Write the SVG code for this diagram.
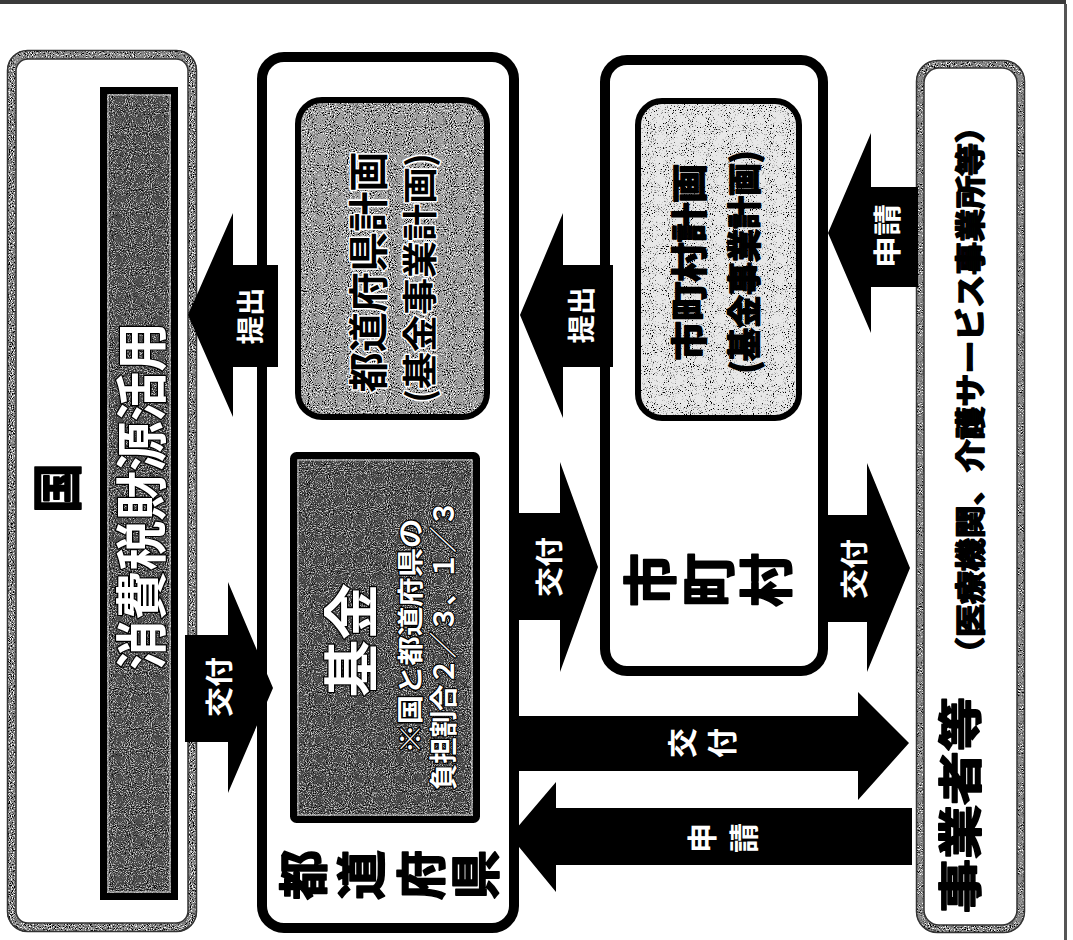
<svg xmlns="http://www.w3.org/2000/svg" width="1073" height="940" viewBox="0 0 1073 940">
<defs>
<style>
.t{font-family:"Noto Sans CJK JP","Noto Sans",sans-serif;font-weight:700;text-anchor:middle;dominant-baseline:central}
.w{fill:#fff}
.k{fill:#000}
.kb{fill:#000;stroke:#000;stroke-width:1.6;stroke-linejoin:round}
.ow{fill:#fff;stroke:#000;stroke-width:2.5;paint-order:stroke;stroke-linejoin:round}
.ok{fill:#000;stroke:#fff;stroke-width:3;paint-order:stroke;stroke-linejoin:round}
.arrow{fill:#000}
.frame{fill:#fff;stroke:#000;stroke-width:10}
.gb{fill:none;stroke:#8a8a8a;filter:url(#grainMid)}
.edge{fill:none;stroke:#333;stroke-width:1.5}
</style>
<filter id="grainDark" x="-5%" y="-5%" width="110%" height="110%">
<feTurbulence type="fractalNoise" baseFrequency="0.95" numOctaves="2" seed="5" result="n"/>
<feColorMatrix in="n" type="matrix" values="0 0 0 0 1  0 0 0 0 1  0 0 0 0 1  -5 0 0 0 2.35" result="lt"/>
<feComponentTransfer in="lt" result="lt1"><feFuncA type="linear" slope="0.55"/></feComponentTransfer>
<feComposite in="lt1" in2="SourceGraphic" operator="in" result="lt2"/>
<feColorMatrix in="n" type="matrix" values="0 0 0 0 0  0 0 0 0 0  0 0 0 0 0  5 0 0 0 -2.7" result="dk"/>
<feComposite in="dk" in2="SourceGraphic" operator="in" result="dk2"/>
<feMerge><feMergeNode in="SourceGraphic"/><feMergeNode in="dk2"/><feMergeNode in="lt2"/></feMerge>
</filter>
<filter id="grainMid" x="-5%" y="-5%" width="110%" height="110%">
<feTurbulence type="fractalNoise" baseFrequency="0.95" numOctaves="2" seed="9" result="n"/>
<feColorMatrix in="n" type="matrix" values="0 0 0 0 0  0 0 0 0 0  0 0 0 0 0  6 0 0 0 -3.1" result="dk"/>
<feComposite in="dk" in2="SourceGraphic" operator="in" result="dk2"/>
<feColorMatrix in="n" type="matrix" values="0 0 0 0 1  0 0 0 0 1  0 0 0 0 1  -6 0 0 0 2.6" result="lt"/>
<feComposite in="lt" in2="SourceGraphic" operator="in" result="lt2"/>
<feMerge><feMergeNode in="SourceGraphic"/><feMergeNode in="dk2"/><feMergeNode in="lt2"/></feMerge>
</filter>
<filter id="grainLight" x="-5%" y="-5%" width="110%" height="110%">
<feTurbulence type="fractalNoise" baseFrequency="0.95" numOctaves="2" seed="3" result="n"/>
<feColorMatrix in="n" type="matrix" values="0 0 0 0 0  0 0 0 0 0  0 0 0 0 0  7 0 0 0 -4.1" result="dk"/>
<feComposite in="dk" in2="SourceGraphic" operator="in" result="dk2"/>
<feMerge><feMergeNode in="SourceGraphic"/><feMergeNode in="dk2"/></feMerge>
</filter>
</defs>
<rect width="1073" height="940" fill="#fff"/>
<g id="page-edges">
<rect x="0" y="0" width="1066" height="4" fill="#3a3a3a"/>
<rect x="1064" y="4" width="3" height="936" fill="#555"/>
</g>

<g id="node-kuni">
<rect x="11.5" y="54.5" width="181" height="873" rx="16" fill="#fff"/>
<rect x="11.5" y="54.5" width="181" height="873" rx="16" class="gb" stroke-width="9"/>
<rect x="7.5" y="50.5" width="189" height="881" rx="20" class="edge"/>
<rect x="16" y="59" width="172" height="864" rx="12" class="edge"/>
<text class="t kb" font-size="50" transform="translate(54,488) rotate(-90)">国</text>
</g>

<g id="node-zaigen">
<rect x="103.5" y="90.5" width="71" height="806" fill="#4e4e4e" filter="url(#grainDark)"/>
<rect x="103.5" y="90.5" width="71" height="806" fill="none" stroke="#000" stroke-width="7"/>
<rect x="108" y="95" width="62" height="797" fill="none" stroke="#ccc" stroke-width="1"/>
<text class="t ow" font-size="52" textLength="348" lengthAdjust="spacingAndGlyphs" transform="translate(138,496) rotate(-90)">消費税財源活用</text>
</g>

<g id="node-todofuken">
<rect x="262" y="57" width="252" height="871" rx="22" class="frame"/>
<text class="t kb" font-size="50" transform="translate(300,875) rotate(-90)">都</text>
<text class="t kb" font-size="50" transform="translate(358,875) rotate(-90)">道</text>
<text class="t kb" font-size="50" transform="translate(418,875) rotate(-90)">府</text>
<text class="t kb" font-size="50" transform="translate(472,875) rotate(-90)">県</text>
</g>

<g id="node-todofuken-plan">
<rect x="298" y="100" width="189" height="317" rx="24" fill="#a2a2a2" filter="url(#grainMid)"/>
<rect x="298" y="100" width="189" height="317" rx="24" fill="none" stroke="#000" stroke-width="6"/>
<text class="t ok" font-size="40" textLength="241" lengthAdjust="spacingAndGlyphs" transform="translate(366,272) rotate(-90)">都道府県計画</text>
<text class="t ok" font-size="35" textLength="250" lengthAdjust="spacingAndGlyphs" transform="translate(417,278) rotate(-90)">(基金事業計画)</text>
</g>

<g id="node-kikin">
<rect x="293.5" y="455.5" width="183" height="364" rx="3" fill="#484848" filter="url(#grainDark)"/>
<rect x="293.5" y="455.5" width="183" height="364" rx="3" fill="none" stroke="#000" stroke-width="7"/>
<rect x="298" y="460" width="174" height="355" fill="none" stroke="#ccc" stroke-width="1"/>
<text class="t ow" font-size="56" textLength="114" lengthAdjust="spacingAndGlyphs" transform="translate(347,640) rotate(-90)">基金</text>
<text class="t ow" font-size="26" stroke-width="2" textLength="235" lengthAdjust="spacingAndGlyphs" transform="translate(408,636) rotate(-90)">※国と都道府県の</text>
<text class="t ow" font-size="28" stroke-width="2" textLength="290" lengthAdjust="spacingAndGlyphs" transform="translate(442,645) rotate(-90)">負担割合２／３、１／３</text>
</g>

<g id="node-shichoson">
<rect x="605" y="60" width="218" height="611" rx="22" class="frame"/>
<text class="t kb" font-size="54" transform="translate(647,580) rotate(-90)">市</text>
<text class="t kb" font-size="54" transform="translate(705,580) rotate(-90)">町</text>
<text class="t kb" font-size="54" transform="translate(763,580) rotate(-90)">村</text>
</g>

<g id="node-shichoson-plan">
<rect x="638" y="101" width="161" height="317" rx="24" fill="#e8e8e8" filter="url(#grainLight)"/>
<rect x="638" y="101" width="161" height="317" rx="24" fill="none" stroke="#000" stroke-width="6"/>
<text class="t kb" font-size="36" stroke-width="0.8" textLength="197" lengthAdjust="spacingAndGlyphs" transform="translate(687,262) rotate(-90)">市町村計画</text>
<text class="t kb" font-size="34" stroke-width="0.8" textLength="223" lengthAdjust="spacingAndGlyphs" transform="translate(742,262) rotate(-90)">(基金事業計画)</text>
</g>

<g id="node-jigyosha">
<rect x="920" y="64" width="101" height="865" rx="18" fill="#fff"/>
<rect x="920" y="64" width="101" height="865" rx="18" class="gb" stroke-width="8"/>
<rect x="916.5" y="60.5" width="108" height="872" rx="21" class="edge"/>
<rect x="924" y="68" width="93" height="857" rx="15" class="edge"/>
<text class="t kb" font-size="44" textLength="216" lengthAdjust="spacingAndGlyphs" transform="translate(958,805) rotate(-90)">事業者等</text>
<text class="t kb" font-size="30" stroke-width="0.8" textLength="560" lengthAdjust="spacingAndGlyphs" transform="translate(968,390) rotate(-90)">（医療機関、介護サービス事業所等）</text>
</g>

<g id="connectors">
<polygon class="arrow" points="278,265 233,265 233,213 188,315 233,417 233,367 278,367"/>
<text class="t w" font-size="28" textLength="57" lengthAdjust="spacingAndGlyphs" transform="translate(249,316) rotate(-90)">提出</text>

<polygon class="arrow" points="185,635 228,635 228,582 273,688 228,793 228,742 185,742"/>
<text class="t w" font-size="28" textLength="60" lengthAdjust="spacingAndGlyphs" transform="translate(218,687) rotate(-90)">交付</text>

<polygon class="arrow" points="613,265 563,265 563,213 520,315 563,418 563,367 613,367"/>
<text class="t w" font-size="28" textLength="57" lengthAdjust="spacingAndGlyphs" transform="translate(580,315) rotate(-90)">提出</text>

<polygon class="arrow" points="512,513 560,513 560,462 598,567 560,672 560,620 512,620"/>
<text class="t w" font-size="28" textLength="60" lengthAdjust="spacingAndGlyphs" transform="translate(548,567) rotate(-90)">交付</text>

<polygon class="arrow" points="918,187 871,187 871,133 828,233 871,333 871,287 918,287"/>
<text class="t w" font-size="28" textLength="64" lengthAdjust="spacingAndGlyphs" transform="translate(886,236) rotate(-90)">申請</text>

<polygon class="arrow" points="825,515 867,515 867,463 910,568 867,672 867,622 825,622"/>
<text class="t w" font-size="28" textLength="60" lengthAdjust="spacingAndGlyphs" transform="translate(853,569) rotate(-90)">交付</text>

<polygon class="arrow" points="510,716 858,716 858,692 909,743 858,800 858,771 510,771"/>
<text class="t w" font-size="30" transform="translate(680,743) rotate(-90)">交</text>
<text class="t w" font-size="30" transform="translate(720,743) rotate(-90)">付</text>

<polygon class="arrow" points="912,808 556,808 556,782 510,836 556,892 556,865 912,865"/>
<text class="t w" font-size="30" transform="translate(700,838) rotate(-90)">申</text>
<text class="t w" font-size="30" transform="translate(742,838) rotate(-90)">請</text>
</g>
</svg>
